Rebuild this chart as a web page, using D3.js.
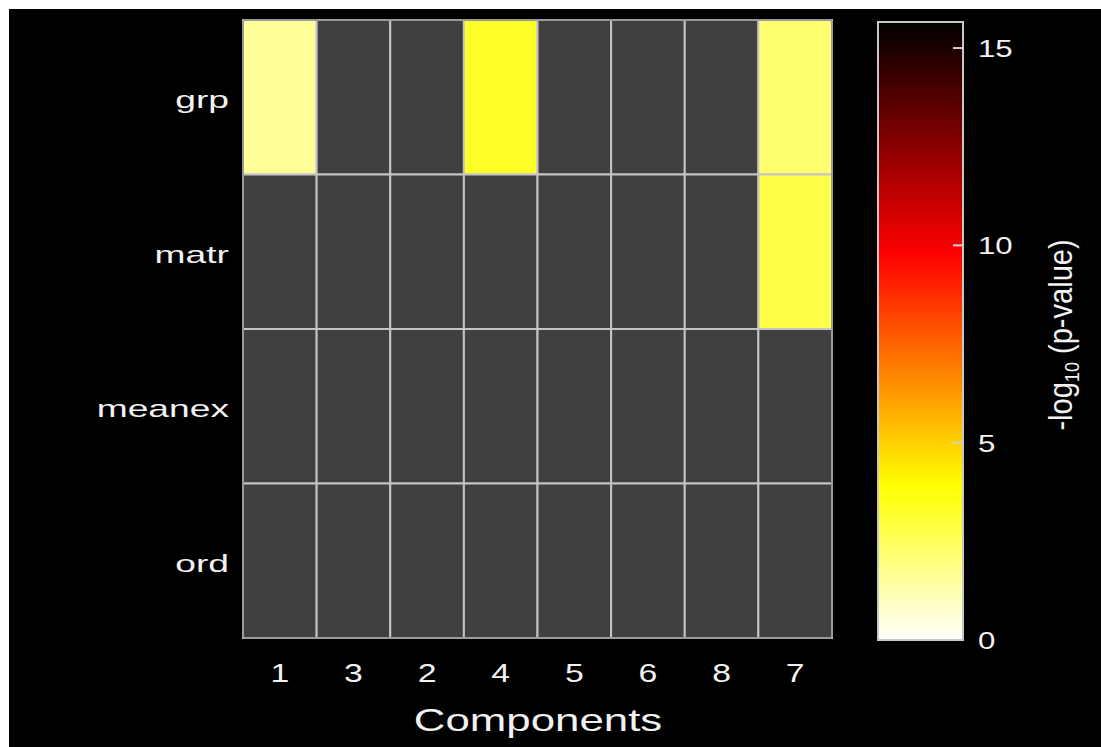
<!DOCTYPE html>
<html><head><meta charset="utf-8">
<script src="https://cdn.jsdelivr.net/npm/d3@7"></script>
<style>html,body{margin:0;padding:0;background:#fff;}svg{display:block;}</style>
</head><body>
<script>
const rows = ["grp", "matr", "meanex", "ord"];
const components = ["1", "3", "2", "4", "5", "6", "8", "7"];
// -log10(p-value); null = not significant (dark cell)
const grpValues    = [1.6, null, null, 3.3, null, null, null, 2.2];
const matrValues   = [null, null, null, null, null, null, null, 2.8];
const meanexValues = [null, null, null, null, null, null, null, null];
const ordValues    = [null, null, null, null, null, null, null, null];
const colorTicks = [0, 5, 10, 15];
const colorMax = 15.66;

const W = 1101, H = 747;
const svg = d3.select("body").append("svg").attr("width", W).attr("height", H);
svg.append("rect").attr("x", 9).attr("y", 9).attr("width", W - 9).attr("height", H - 9).attr("fill", "#000");

const table = [grpValues, matrValues, meanexValues, ordValues];
const cells = [];
rows.forEach((r, i) => components.forEach((c, j) => cells.push({row: r, comp: c, v: table[i][j]})));

// reversed "hot" colormap
function hot(t) {
  const cl = x => Math.max(0, Math.min(1, x));
  return d3.rgb(255 * cl(t / 0.375), 255 * cl((t - 0.375) / 0.375), 255 * cl((t - 0.75) / 0.25));
}
const color = v => hot(1 - v / colorMax);

const x = d3.scaleBand().domain(components).range([243, 832]);
const y = d3.scaleBand().domain(rows).range([20, 638]);

svg.append("g").selectAll("rect").data(cells).join("rect")
  .attr("x", d => x(d.comp)).attr("y", d => y(d.row))
  .attr("width", x.bandwidth()).attr("height", y.bandwidth())
  .attr("fill", d => d.v == null ? "#404040" : color(d.v))
  .attr("stroke", "#c4c4c4").attr("stroke-width", 2);
svg.append("rect").attr("x", 243).attr("y", 20).attr("width", 589).attr("height", 618)
  .attr("fill", "none").attr("stroke", "#9a9a9a").attr("stroke-width", 2).attr("rx", 2);

const font = "Liberation Sans, Arial, sans-serif";
const txt = "#f2f2f2";
// row labels (horizontally stretched like the reference)
svg.append("g").selectAll("text").data(rows).join("text")
  .attr("transform", d => `translate(229,${y(d) + y.bandwidth() / 2 + 11}) scale(1.55,1)`)
  .attr("text-anchor", "end").attr("fill", txt)
  .attr("font-family", font).attr("font-size", 24)
  .text(d => d);

// column labels
svg.append("g").selectAll("text").data(components).join("text")
  .attr("transform", d => `translate(${x(d) + x.bandwidth() / 2},682) scale(1.3,1)`)
  .attr("text-anchor", "middle").attr("fill", txt)
  .attr("font-family", font).attr("font-size", 26)
  .text(d => d);

svg.append("text").attr("transform", "translate(538,731) scale(1.37,1)").attr("text-anchor", "middle")
  .attr("fill", txt).attr("font-family", font).attr("font-size", 32)
  .text("Components");

// colorbar
const cb = {x: 878, w: 85, top: 22, bottom: 640};
const cy = d3.scaleLinear().domain([0, colorMax]).range([cb.bottom, cb.top]);
const grad = svg.append("defs").append("linearGradient").attr("id", "cbg")
  .attr("x1", 0).attr("y1", 1).attr("x2", 0).attr("y2", 0);
d3.range(0, 65).forEach(i => {
  const v = colorMax * i / 64;
  grad.append("stop").attr("offset", i / 64).attr("stop-color", color(v));
});
svg.append("rect").attr("x", cb.x).attr("y", cb.top).attr("width", cb.w).attr("height", cb.bottom - cb.top)
  .attr("fill", "url(#cbg)").attr("stroke", "#c8c8c8").attr("stroke-width", 2);
svg.append("g").selectAll("line").data(colorTicks.filter(t => t > 0)).join("line")
  .attr("x1", cb.x + cb.w - 10).attr("x2", cb.x + cb.w)
  .attr("y1", d => cy(d)).attr("y2", d => cy(d))
  .attr("stroke", "#d0d0d0").attr("stroke-width", 2);
svg.append("g").selectAll("text").data(colorTicks).join("text")
  .attr("transform", d => `translate(978,${cy(d) + 9}) scale(1.3,1)`)
  .attr("fill", txt).attr("font-family", font).attr("font-size", 24)
  .text(d => d);

const title = svg.append("text").attr("transform", "translate(1072,335) rotate(-90) scale(1.21,1.4)")
  .attr("text-anchor", "middle").attr("fill", txt).attr("font-family", font).attr("font-size", 24);
title.append("tspan").text("-log");
title.append("tspan").attr("font-size", 15).attr("dy", 5).text("10");
title.append("tspan").attr("dy", -5).text(" (p-value)");
</script>
</body></html>
